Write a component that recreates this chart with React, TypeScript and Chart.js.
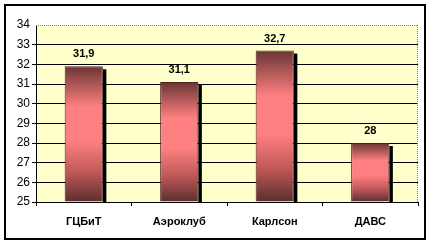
import React, { useEffect, useRef } from "react";
import { Chart, registerables } from "chart.js";

Chart.register(...registerables);

const categories = ["ГЦБиТ", "Аэроклуб", "Карлсон", "ДАВС"];
const values = [31.9, 31.1, 32.7, 28];
const valueLabels = ["31,9", "31,1", "32,7", "28"];
const yMin = 25;
const yMax = 34;

const FONT = "'Liberation Sans', Arial, sans-serif";

const decorPlugin = {
  id: "decor",
  beforeDraw(chart: any) {
    const { ctx, chartArea: a } = chart;
    ctx.save();
    ctx.fillStyle = "#ffffff";
    ctx.fillRect(0, 0, chart.width, chart.height);
    ctx.fillStyle = "#ffffcc";
    ctx.fillRect(a.left, a.top, a.right - a.left, a.bottom - a.top);
    ctx.restore();
  },
  beforeDatasetsDraw(chart: any) {
    const { ctx, chartArea: a } = chart;
    ctx.save();
    ctx.strokeStyle = "#808080";
    ctx.lineWidth = 1;
    ctx.setLineDash([1, 1]);
    ctx.beginPath();
    ctx.moveTo(a.left, a.top + 0.5);
    ctx.lineTo(a.right, a.top + 0.5);
    ctx.moveTo(a.right - 0.5, a.top);
    ctx.lineTo(a.right - 0.5, a.bottom);
    ctx.stroke();
    ctx.setLineDash([]);
    const meta = chart.getDatasetMeta(0);
    ctx.fillStyle = "#000000";
    meta.data.forEach((bar: any) => {
      const right = bar.x + bar.width / 2;
      ctx.fillRect(right, bar.y + 3, 3.5, a.bottom - bar.y - 3);
    });
    ctx.restore();
  },
  afterDatasetsDraw(chart: any) {
    const { ctx } = chart;
    const meta = chart.getDatasetMeta(0);
    ctx.save();
    ctx.fillStyle = "#000000";
    ctx.font = `bold 11px ${FONT}`;
    ctx.textAlign = "center";
    ctx.textBaseline = "middle";
    meta.data.forEach((bar: any, i: number) => {
      ctx.fillText(valueLabels[i], bar.x, bar.y - 12);
    });
    ctx.restore();
  },
  afterDraw(chart: any) {
    const { ctx } = chart;
    ctx.save();
    ctx.strokeStyle = "#000000";
    ctx.lineWidth = 2;
    ctx.strokeRect(5, 5, 420, 234);
    ctx.restore();
  },
};

export default function App() {
  const ref = useRef<HTMLCanvasElement | null>(null);
  useEffect(() => {
    document.body.style.margin = "0";
    const canvas = ref.current!;
    const chart = new Chart(canvas, {
      type: "bar",
      data: {
        labels: categories,
        datasets: [
          {
            data: values,
            base: yMin,
            barPercentage: 0.4,
            categoryPercentage: 1,
            borderWidth: 1,
            borderColor: "#4a2020",
            backgroundColor: (context: any) => {
              const c = context.chart;
              const area = c.chartArea;
              if (!area || context.dataIndex === undefined) return "#ff8080";
              const v = values[context.dataIndex];
              const top = c.scales.y.getPixelForValue(v);
              const bottom = area.bottom;
              const g = c.ctx.createLinearGradient(0, top, 0, bottom);
              g.addColorStop(0, "#6a3434");
              g.addColorStop(0.3, "#ff8080");
              g.addColorStop(0.55, "#ff8080");
              g.addColorStop(0.78, "#c05858");
              g.addColorStop(1, "#5a2e2e");
              return g;
            },
          },
        ],
      },
      options: {
        animation: false,
        responsive: false,
        maintainAspectRatio: false,
        devicePixelRatio: 1,
        layout: { padding: { left: 6, right: 14, top: 25, bottom: 6 } },
        plugins: {
          legend: { display: false },
          tooltip: { enabled: false },
        },
        scales: {
          y: {
            min: yMin,
            max: yMax,
            ticks: {
              stepSize: 1,
              color: "#000000",
              font: { family: FONT, size: 12 },
              padding: 2,
            },
            grid: {
              color: (ctx: any) =>
                ctx.tick && ctx.tick.value === yMax ? "rgba(0,0,0,0)" : "#000000",
              lineWidth: 1,
              tickLength: 4,
              drawTicks: true,
            },
            border: { color: "#000000", width: 1 },
            afterFit: (s: any) => {
              s.width = 30;
            },
          },
          x: {
            ticks: {
              color: "#000000",
              font: { family: FONT, size: 11, weight: "bold" },
              padding: 9,
            },
            grid: {
              offset: true,
              drawOnChartArea: false,
              color: "#000000",
              tickLength: 4,
            },
            border: { color: "#000000", width: 1 },
            afterFit: (s: any) => {
              s.height = 37;
            },
          },
        },
      },
      plugins: [decorPlugin],
    });
    return () => chart.destroy();
  }, []);
  return (
    <div style={{ width: 432, height: 245 }}>
      <canvas ref={ref} width={432} height={245} style={{ display: "block" }} />
    </div>
  );
}
